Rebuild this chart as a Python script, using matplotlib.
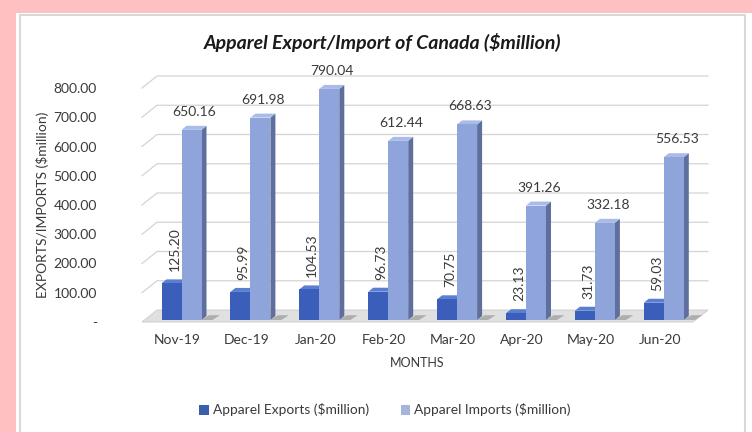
import numpy as np
import matplotlib.pyplot as plt
from matplotlib.patches import Polygon, Rectangle, Patch

months = ["Nov-19", "Dec-19", "Jan-20", "Feb-20", "Mar-20", "Apr-20", "May-20", "Jun-20"]
exports = [125.20, 95.99, 104.53, 96.73, 70.75, 23.13, 31.73, 59.03]
imports = [650.16, 691.98, 790.04, 612.44, 668.63, 391.26, 332.18, 556.53]
yticks = [0, 100, 200, 300, 400, 500, 600, 700, 800]

plt.rcParams['font.family'] = ['Lato', 'DejaVu Sans']

W, H = 752, 432
fig = plt.figure(figsize=(W / 100, H / 100), dpi=100)
fig.patch.set_facecolor('#FEC0C1')

# white card behind the chart
fig.patches.append(Rectangle((16 / W, 0), 1, (H - 13) / H, transform=fig.transFigure,
                             facecolor='white', edgecolor='none', zorder=-2))
fig.patches.append(Rectangle((20 / W, -0.05), (745 - 20) / W, (H - 15) / H + 0.05,
                             transform=fig.transFigure, facecolor='none',
                             edgecolor='#D9D9D9', lw=1.5, zorder=-1))

# front plane of the plot in pixels
left_px, right_px, bottom_px, top_px = 142, 693, 322, 88
cat0_px, step_px = 177.5, 68.9
x0 = (left_px - cat0_px) / step_px
x1 = (right_px - cat0_px) / step_px
ax = fig.add_axes([left_px / W, (H - bottom_px) / H,
                   (right_px - left_px) / W, (bottom_px - top_px) / H])
ax.set_xlim(x0, x1)
ax.set_ylim(0, 800)
ax.patch.set_alpha(0)
for s in ax.spines.values():
    s.set_visible(False)

ppx = step_px
ppy = (bottom_px - top_px) / 800


def px(dx, dy):
    # pixel offset -> data offset
    return dx / ppx, dy / ppy


wall_dx, wall_dy = px(15, 12)
bar_off_x, bar_off_y = px(4, 2)
dep_x, dep_y = px(5, 4)
bw = 20 / ppx

# side wall / back wall gridlines
for v in yticks[1:]:
    ax.plot([x0, x0 + wall_dx, x1 + wall_dx], [v, v + wall_dy, v + wall_dy],
            color='#D4D4D4', lw=0.9, zorder=1, clip_on=False)

# floor
floor = [(x0, 0), (x1, 0), (x1 + wall_dx, wall_dy), (x0 + wall_dx, wall_dy)]
ax.add_patch(Polygon(floor, closed=True, facecolor='#E0E0E0', edgecolor='#CACACA',
                     lw=0.6, zorder=2, clip_on=False))

exp_cols = ('#3A5EBA', '#5A7FD0', '#2B4892')
imp_cols = ('#8EA4DB', '#A9BBE8', '#5E6F9E')


def bar3d(xl, v, cols):
    front, top, side = cols
    xl = xl + bar_off_x
    b = bar_off_y
    xr = xl + bw
    # shadow on the floor
    ax.add_patch(Polygon([(xr, b), (xr + dep_x * 2.2, b), (xr + dep_x * 2.2 + wall_dx * 0.5, b + wall_dy * 0.4),
                          (xr + wall_dx * 0.5, b + wall_dy * 0.4)],
                         closed=True, facecolor='#8E8E8E', edgecolor='none', alpha=0.6,
                         zorder=3, clip_on=False))
    ax.add_patch(Polygon([(xr, b), (xr + dep_x, b + dep_y), (xr + dep_x, b + v + dep_y), (xr, b + v)],
                         closed=True, facecolor=side, edgecolor='none', zorder=4, clip_on=False))
    ax.add_patch(Polygon([(xl, b + v), (xr, b + v), (xr + dep_x, b + v + dep_y), (xl + dep_x, b + v + dep_y)],
                         closed=True, facecolor=top, edgecolor='none', zorder=4, clip_on=False))
    ax.add_patch(Rectangle((xl, b), bw, v, facecolor=front, edgecolor='none', zorder=5, clip_on=False))


x = np.arange(len(months))
for i in x:
    bar3d(i - bw, exports[i], exp_cols)
    bar3d(i, imports[i], imp_cols)
    ax.annotate(f"{imports[i]:.2f}", (i + bw / 2 + bar_off_x, imports[i]), xytext=(3, 14),
                textcoords='offset pixels', ha='center', va='bottom', fontsize=10, color='#3A3A3A')
    ax.annotate(f"{exports[i]:.2f}", (i - bw / 2 + bar_off_x, exports[i]), xytext=(3, 14),
                textcoords='offset pixels', ha='center', va='bottom', rotation=90,
                fontsize=10, color='#3A3A3A')

ax.set_xticks(x, months)
ax.set_yticks(yticks, ['-' if v == 0 else f"{v:.2f}" for v in yticks])
ax.tick_params(axis='both', length=0, labelsize=10, labelcolor='#3A3A3A')
ax.tick_params(axis='y', pad=45 * 0.72)
ax.tick_params(axis='x', pad=12 * 0.72)
ax.set_xlabel("MONTHS", fontsize=9, color='#3A3A3A', labelpad=8)
ax.set_ylabel("EXPORTS/IMPORTS ($million)", fontsize=10, color='#3A3A3A', labelpad=3)

fig.text(383 / W, 1 - 42 / H, "Apparel Export/Import of Canada ($million)",
         ha='center', va='center', fontsize=14, fontweight='bold', style='italic',
         color='#1A1A1A')

handles = [Patch(facecolor='#3B5FAA', label='Apparel Exports ($million)'),
           Patch(facecolor='#A5B4D9', label='Apparel Imports ($million)')]
fig.legend(handles=handles, loc='center', bbox_to_anchor=(385 / W, 1 - 410 / H), ncol=2,
           frameon=False, fontsize=9.9, handlelength=0.7, handleheight=0.7,
           handletextpad=0.3, columnspacing=2.3, labelcolor='#3A3A3A')

fig.savefig('out.png', dpi=100, facecolor=fig.get_facecolor())
